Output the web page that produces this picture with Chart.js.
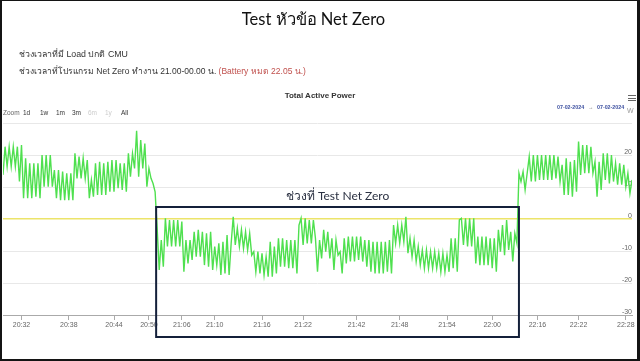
<!DOCTYPE html>
<html><head><meta charset="utf-8">
<script src="https://cdn.jsdelivr.net/npm/chart.js@4.4.1/dist/chart.umd.min.js"></script>
<style>
html,body{margin:0;padding:0;background:#fff;}
#page{position:relative;width:640px;height:361px;overflow:hidden;font-family:"Liberation Sans",Arial,sans-serif;}
#frame{position:absolute;left:0;top:0;width:640px;height:361px;box-sizing:border-box;border-style:solid;border-color:#141414;border-width:1px 3px 2px 2px;pointer-events:none;z-index:5}
canvas{position:absolute;left:0;top:0;}
.t{position:absolute;white-space:nowrap;line-height:1;}
.zb{position:absolute;top:109px;font-size:6.5px;color:#333;}
.dt{position:absolute;top:104.5px;font-size:5.3px;font-weight:bold;color:#3d50a0;white-space:nowrap;line-height:1;}
</style></head><body>
<div id="page">
<canvas id="c" width="640" height="361"></canvas>
<div class="t" style="left:0;width:627px;text-align:center;top:11px;font-size:16.5px;font-family:Lato,'Open Sans',sans-serif;color:#111">Test หัวข้อ Net Zero</div>
<div class="t" style="left:19px;top:50px;font-size:8.8px;color:#333">ช่วงเวลาที่มี Load ปกติ CMU</div>
<div class="t" style="left:19px;top:67px;font-size:8.5px;color:#333">ช่วงเวลาที่โปรแกรม Net Zero ทำงาน 21.00-00.00 น. <span style="color:#c0504d">(Battery หมด 22.05 น.)</span></div>
<div class="t" style="left:0;width:640px;text-align:center;top:92px;font-size:8px;font-weight:bold;color:#333">Total Active Power</div>
<div class="zb" style="left:3px;color:#666">Zoom</div>
<div class="zb" style="left:23px">1d</div>
<div class="zb" style="left:40px">1w</div>
<div class="zb" style="left:56px">1m</div>
<div class="zb" style="left:72px">3m</div>
<div class="zb" style="left:88px;color:#ccc">6m</div>
<div class="zb" style="left:105px;color:#ccc">1y</div>
<div class="zb" style="left:121px">All</div>
<div class="dt" style="left:557px">07-02-2024</div>
<div class="dt" style="left:588px;font-weight:normal;color:#777">→</div>
<div class="dt" style="left:597px">07-02-2024</div>
<div class="t" style="left:627px;top:107px;font-size:7px;color:#999">W</div>
<div class="t" style="left:628px;top:95px;width:8px;height:6px;border-top:1px solid #666;border-bottom:1px solid #666;box-sizing:border-box"></div>
<div class="t" style="left:628px;top:97.5px;width:8px;height:1px;background:#666"></div>
<div id="frame"></div>
</div>
<script>
// Active power readings (W) in order
const loadBefore = [
13.8, 22.6, 16.4, 22.6, 16.4, 22.6, 16.4, 22.6, 11.7, 23.1,
6.5, 19, 6.5, 17.4, 6.5, 17.4, 7, 17.4, 6.5, 20,
10.1, 20, 10.1, 20, 10.1, 15.3, 6.5, 15.3, 5.9, 14.8,
5.9, 14.3, 5.9, 14.3, 5.9, 20.5, 12.7, 19.5, 12.7, 19,
12.7, 18.4, 6.5, 12.2, 7, 17.4, 7.5, 17.9, 7.5, 17.4,
7.5, 17.9, 8.5, 18.4, 8.5, 18.4, 9.6, 17.4, 9.1, 17.4,
8.5, 20.5, 13.2, 20.5, 15.8, 27.6, 13.2, 24.7, 15.8, 23.6,
10.1, 15.8, 12.7, 11.1, 8.5
];
const netZeroPeriod = [
-3, -15.9, -6.6, -14.9, 0.2, -8.6, -0.3, -8.6, -0.3, -8.6,
-0.3, -8.6, -0.8, -16.5, -6.6, -13.9, -6.6, -12.8, -4, -11.8,
-3.4, -11.8, -4, -14.4, -4.5, -14.9, -4, -15.9, -8.6, -14.4,
-7.6, -17.5, -7.1, -17, -5, -17.5, -7.6, 0.7, -8.1, -2.9,
-8.6, -3.4, -9.2, -4, -9.7, -4.5, -11.3, -10.2, -16.5, -10.2,
-17, -10.7, -17.5, -11.8, -18, -7.1, -18, -8.6, -17, -6,
-14.9, -6, -14.9, -6.6, -15.4, -6.6, -15.4, -6.6, -17, -1.9,
0.2, -8.1, 0.2, -7.6, -0.3, -7.6, -0.3, -6, -16.5, -6.6,
-12.3, -3.4, -10.2, -4, -12.3, -6, -15.9, -6.6, -11.3, -10.2, -17,
-6, -13.9, -5.5, -13.3, -5.5, -13.3, -5.5, -12.8, -5.5, -13.3,
-6.6, -14.9, -6.6, -16.5, -7.1, -17, -7.1, -17, -7.1, -17,
-7.1, -16.5, -6.6, -17, -1.9, -7.6, -1.9, -7.6, -1.9, -7.1,
0.7, -10.7, -6, -11.8, -6.6, -13.3, -8.6, -14.4, -9.7, -15.4,
-9.7, -15.4, -10.2, -15.4, -10.2, -15.4, -10.7, -16.5, -10.7, -16.5,
-11.3, -16.5, -6, -15.4, -6, -16.5, -0.3,
0.2, -8.1, 0.2, -8.6, 0.2, -8.6, 0.2, -13.9, -5.5, -14.4,
-5.5, -14.4, -5.5, -14.4, -6, -15.4, -6, -16.5, -3.4, -10.2,
-1.9, -11.3, -0.3, -9.7, -4, -13.3, -4.5, -7.6
];
const loadAfter = [
14.3, 11.7, 14.8, 9.1, 14.3, 19.5, 11.7, 20, 11.7, 20,
12.2, 20, 12.2, 20, 12.2, 20, 12.2, 20, 12.7, 19.5,
11.7, 16.9, 7.5, 19, 7.5, 17.9, 7, 18.4, 8.5, 24.2,
13.8, 23.1, 14.3, 23.1, 14.3, 22.6, 14.3, 17.9, 7, 17.9,
9.1, 20.5, 12.2, 20.5, 11.1, 20, 11.7, 17.4, 10.7, 17.4,
10.7, 16.9, 10.1, 14.3, 8, 12.2
];
// time axis labels and the sample index at which each appears
const tickLabels = ['20:32','20:38','20:44','20:50','21:06','21:10','21:16','21:22','21:42','21:48','21:54','22:00','22:16','22:22','22:28'];
const tickIndex  = [9, 32, 54, 71, 87, 103, 126, 146, 172, 193, 216, 238, 260, 280, 303];
const yTicks = [-30, -20, -10, 0, 10, 20, 30];
const boxLabel = 'ช่วงที่ Test Net Zero';

const values = loadBefore.concat(netZeroPeriod, loadAfter);
const boxStart = loadBefore.length - 0.5;
const boxEnd = loadBefore.length + netZeroPeriod.length;

const boxPlugin = {
  id: 'netZeroBox',
  afterDraw(chart) {
    const {ctx, scales: {x}} = chart;
    const l = x.getPixelForValue(boxStart), r = x.getPixelForValue(boxEnd);
    ctx.save();
    ctx.strokeStyle = '#14203a';
    ctx.lineWidth = 2;
    ctx.strokeRect(l, 207, r - l, 130);
    ctx.font = '12px Lato, "Open Sans", sans-serif';
    ctx.fillStyle = '#2b3142';
    ctx.textAlign = 'center';
    ctx.textBaseline = 'middle';
    ctx.fillText(boxLabel, (l + r) / 2, 196);
    ctx.restore();
  }
};

new Chart(document.getElementById('c'), {
  type: 'line',
  data: { datasets: [{
    data: values.map((v, i) => ({x: i, y: v})),
    borderColor: '#4fe04f', borderWidth: 1.4, pointRadius: 0, tension: 0
  }]},
  options: {
    responsive: false, animation: false,
    layout: { padding: { left: 3, top: 123, right: 0, bottom: 21 } },
    plugins: { legend: { display: false }, tooltip: { enabled: false }, title: { display: false } },
    scales: {
      x: {
        type: 'linear', min: 0, max: values.length - 1,
        afterBuildTicks: s => { s.ticks = tickIndex.map(v => ({value: v})); },
        afterFit: s => { s.height = 25; },
        ticks: {
          autoSkip: false, maxRotation: 0, padding: 1,
          callback: v => { const k = tickIndex.indexOf(v); return k >= 0 ? tickLabels[k] : ''; },
          font: { size: 7, family: 'Liberation Sans' }, color: '#666'
        },
        grid: { drawOnChartArea: false, drawTicks: true, tickLength: 5, color: '#aaa' },
        border: { display: true, color: '#aaa' }
      },
      y: {
        position: 'right', min: -30, max: 30,
        afterBuildTicks: s => { s.ticks = yTicks.map(v => ({value: v})); },
        afterFit: s => { s.width = 8; },
        ticks: {
          mirror: true, padding: 0, labelOffset: -3,
          callback: v => (v === 30 ? '' : String(v)),
          font: { size: 7, family: 'Liberation Sans' }, color: '#666'
        },
        grid: {
          drawTicks: false,
          color: c => (c.tick && c.tick.value === 0 ? '#ece46a' : '#e8e8e8'),
          lineWidth: c => (c.tick && c.tick.value === 0 ? 1.5 : 1)
        },
        border: { display: false }
      }
    }
  },
  plugins: [boxPlugin]
});
</script>
</body></html>
